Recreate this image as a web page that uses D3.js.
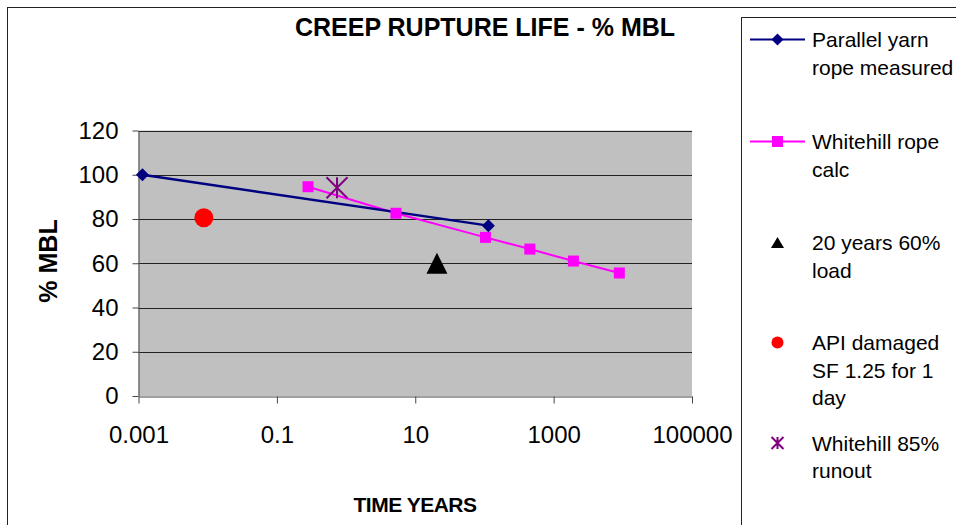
<!DOCTYPE html>
<html>
<head>
    <meta charset="utf-8" />
    <title>Creep Rupture Life</title>
    <style>
    	body { margin: 0; background: #fff; }
    	text { font-family: "Liberation Sans", Arial, sans-serif; fill: #000; }
    </style>
</head>
<body>
<script src="https://d3js.org/d3.v7.min.js"></script>
<script>
    // values
    var parallelX = [0.00114, 114];
    var parallelY = [100, 77];

    var whitehillX = [0.282, 5.26, 103.5, 453, 1932, 8910];
    var whitehillY = [94.6, 82.6, 71.7, 66.4, 61.0, 55.6];

    var loadX = [20.6];
    var loadY = [60];

    var apiX = [0.0088];
    var apiY = [80.6];

    var runoutX = [0.74];
    var runoutY = [94.1];

    var xTicks = [0.001, 0.1, 10, 1000, 100000];
    var yTicks = [0, 20, 40, 60, 80, 100, 120];

    var legendLabels = [
        ["Parallel yarn", "rope measured"],
        ["Whitehill rope", "calc"],
        ["20 years 60%", "load"],
        ["API damaged", "SF 1.25 for 1", "day"],
        ["Whitehill 85%", "runout"]
    ];

    var width = 956;
    var height = 525;
    var plot = {"left":138.5, "right":692, "top":130.5, "bottom":396};

    var svg = d3.select("body").append("svg")
                .attr("width", width)
                .attr("height", height);

    // outer chart frame, runs off the right and bottom edges
    svg.append("rect")
       .attr("x", 7.5).attr("y", 7.5)
       .attr("width", width + 20).attr("height", height + 20)
       .attr("fill", "#fff")
       .attr("stroke", "#222");

    var x = d3.scaleLog()
              .domain([0.001, 100000])
              .range([plot.left, plot.right]);
    var y = d3.scaleLinear()
              .domain([0, 120])
              .range([plot.bottom, plot.top]);

    svg.append("rect")
       .attr("x", plot.left).attr("y", plot.top)
       .attr("width", plot.right - plot.left)
       .attr("height", plot.bottom - plot.top)
       .attr("fill", "#c0c0c0");

    svg.append("g")
       .selectAll("line")
       .data(yTicks.filter(d => d > 0))
       .enter().append("line")
       .attr("x1", plot.left).attr("x2", plot.right)
       .attr("y1", d => Math.round(y(d)) + 0.5)
       .attr("y2", d => Math.round(y(d)) + 0.5)
       .attr("stroke", "#222")
       .attr("stroke-width", 1);

    var xAxis = svg.append("g")
       .attr("transform", "translate(0," + (plot.bottom + 0.5) + ")")
       .call(d3.axisBottom(x).tickValues(xTicks).tickFormat(d => String(d)).tickSize(7).tickSizeOuter(0));
    xAxis.selectAll("text")
       .attr("y", 46).attr("dy", null)
       .style("font-size", "24px")
       .style("font-family", "'Liberation Sans', Arial, sans-serif");

    var yAxis = svg.append("g")
       .attr("transform", "translate(" + (plot.left) + ",0)")
       .call(d3.axisLeft(y).tickValues(yTicks).tickSize(6).tickPadding(14).tickSizeOuter(0));
    yAxis.selectAll("text")
       .attr("dy", "0.33em")
       .style("font-size", "24px")
       .style("font-family", "'Liberation Sans', Arial, sans-serif");

    svg.selectAll(".domain").attr("stroke", "#444");
    svg.selectAll(".tick line").attr("stroke", "#444");

    // titles
    svg.append("text")
       .attr("x", 485).attr("y", 36)
       .attr("text-anchor", "middle")
       .style("font-size", "25px").style("font-weight", "bold")
       .text("CREEP RUPTURE LIFE - % MBL");

    svg.append("text")
       .attr("x", 415).attr("y", 512)
       .attr("text-anchor", "middle")
       .style("font-size", "21px").style("font-weight", "bold")
       .style("letter-spacing", "-0.5px")
       .text("TIME YEARS");

    svg.append("text")
       .attr("transform", "translate(57,261) rotate(-90)")
       .attr("text-anchor", "middle")
       .style("font-size", "25px").style("font-weight", "bold")
       .text("% MBL");

    var line = d3.line()
                 .x(d => x(d[0]))
                 .y(d => y(d[1]));

    var parallel = d3.zip(parallelX, parallelY);
    var whitehill = d3.zip(whitehillX, whitehillY);

    svg.append("path")
       .attr("d", line(whitehill))
       .attr("fill", "none")
       .attr("stroke", "#ff00ff")
       .attr("stroke-width", 2);

    svg.append("path")
       .attr("d", line(parallel))
       .attr("fill", "none")
       .attr("stroke", "#000080")
       .attr("stroke-width", 2.5);

    function diamond(s) {
        return "M0," + (-s) + "L" + s + ",0L0," + s + "L" + (-s) + ",0Z";
    }
    function triangle(w, h) {
        return "M0," + (-h/2) + "L" + (w/2) + "," + (h/2) + "L" + (-w/2) + "," + (h/2) + "Z";
    }
    function asterisk(h) {
        return "M0," + (-h) + "L0," + h +
               "M" + (-h) + "," + (-h) + "L" + h + "," + h +
               "M" + (-h) + "," + h + "L" + h + "," + (-h);
    }

    svg.append("g").selectAll("path")
       .data(whitehill)
       .enter().append("rect")
       .attr("x", d => x(d[0]) - 5.5)
       .attr("y", d => y(d[1]) - 5.5)
       .attr("width", 11).attr("height", 11)
       .attr("fill", "#ff00ff");

    svg.append("g").selectAll("path")
       .data(parallel)
       .enter().append("path")
       .attr("transform", d => "translate(" + x(d[0]) + "," + y(d[1]) + ")")
       .attr("d", diamond(6.5))
       .attr("fill", "#000080");

    svg.append("g").selectAll("path")
       .data(d3.zip(loadX, loadY))
       .enter().append("path")
       .attr("transform", d => "translate(" + x(d[0]) + "," + y(d[1]) + ")")
       .attr("d", triangle(21, 21))
       .attr("fill", "#000");

    svg.append("g").selectAll("circle")
       .data(d3.zip(apiX, apiY))
       .enter().append("circle")
       .attr("cx", d => x(d[0]))
       .attr("cy", d => y(d[1]))
       .attr("r", 9.5)
       .attr("fill", "#ff0000");

    svg.append("g").selectAll("path")
       .data(d3.zip(runoutX, runoutY))
       .enter().append("path")
       .attr("transform", d => "translate(" + x(d[0]) + "," + y(d[1]) + ")")
       .attr("d", asterisk(10.5))
       .attr("fill", "none")
       .attr("stroke", "#800080")
       .attr("stroke-width", 2);

    // legend box, also runs off the edge
    svg.append("rect")
       .attr("x", 741.5).attr("y", 17.5)
       .attr("width", 300).attr("height", 600)
       .attr("fill", "#fff")
       .attr("stroke", "#222");

    var legendY = [39.5, 141.5, 242.5, 342.5, 443];
    var markX = 777.5;
    var lg = svg.append("g");

    lg.append("line").attr("x1", 750).attr("x2", 805)
      .attr("y1", legendY[0]).attr("y2", legendY[0])
      .attr("stroke", "#000080").attr("stroke-width", 2);
    lg.append("path").attr("transform", "translate(" + markX + "," + legendY[0] + ")")
      .attr("d", diamond(6)).attr("fill", "#000080");

    lg.append("line").attr("x1", 750).attr("x2", 805)
      .attr("y1", legendY[1]).attr("y2", legendY[1])
      .attr("stroke", "#ff00ff").attr("stroke-width", 2);
    lg.append("rect").attr("x", markX - 5.5).attr("y", legendY[1] - 5.5)
      .attr("width", 11).attr("height", 11).attr("fill", "#ff00ff");

    lg.append("path").attr("transform", "translate(" + markX + "," + legendY[2] + ")")
      .attr("d", triangle(13, 11)).attr("fill", "#000");

    lg.append("circle").attr("cx", markX).attr("cy", legendY[3])
      .attr("r", 6).attr("fill", "#ff0000");

    lg.append("path").attr("transform", "translate(" + markX + "," + legendY[4] + ")")
      .attr("d", asterisk(6)).attr("fill", "none")
      .attr("stroke", "#800080").attr("stroke-width", 2);

    legendLabels.forEach(function(lines, i) {
        var t = lg.append("text")
                  .attr("x", 812)
                  .attr("y", legendY[i] + 7.5)
                  .style("font-size", "21px");
        lines.forEach(function(s, j) {
            t.append("tspan")
             .attr("x", 812)
             .attr("dy", j == 0 ? 0 : 27.5)
             .text(s);
        });
    });
</script>

</body>
</html>
